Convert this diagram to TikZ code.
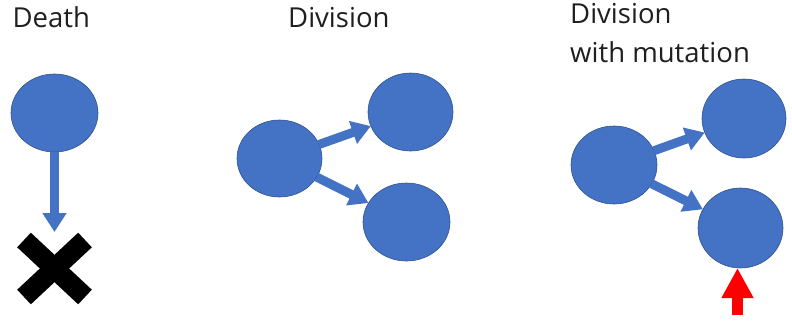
\documentclass[tikz,border=0pt]{standalone}
\usepackage{fontspec}
\setmainfont{Open Sans}
\usetikzlibrary{shapes.geometric,arrows.meta}
\definecolor{cellblue}{HTML}{4472C4}
\definecolor{celledge}{HTML}{2F528F}
\tikzset{
  cell/.style={ellipse, fill=cellblue, draw=celledge, line width=0.6pt, inner sep=0pt, outer sep=0pt},
  lbl/.style={anchor=base west, inner sep=0pt, font=\fontsize{27.5}{39}\selectfont, text=black!88},
  bluearr/.style={draw=cellblue, line width=9pt, -{Triangle[width=23pt,length=19pt]}},
  redarr/.style={draw=red, line width=11pt, -{Triangle[width=30pt,length=30pt]}},
  crossbar/.style={line width=20pt, black}
}
\begin{document}
\begin{tikzpicture}[x=1pt,y=-1pt]
\useasboundingbox (0,0) rectangle (792,322);
% labels
\node[lbl] (tdeath) at (12.5,27) {Death};
\node[lbl] (tdiv) at (288,27) {Division};
\node[lbl] (tmut1) at (570,23) {Division};
\node[lbl] (tmut2) at (570,62) {with mutation};
% death
\node[cell, minimum width=87pt, minimum height=78pt] (d1) at (54.5,113) {};
\coordinate (dend) at (54.5,232);
\draw[bluearr] (d1.south) -- (dend);
\draw[crossbar] (24,240) -- (85,297);
\draw[crossbar] (85,240) -- (24,297);
% division
\node[cell, minimum width=85pt, minimum height=77pt] (p) at (279.5,158.5) {};
\node[cell, minimum width=85pt, minimum height=78pt] (c1) at (410.5,112) {};
\node[cell, minimum width=87pt, minimum height=78pt] (c2) at (406.5,222) {};
\draw[bluearr] (p) -- (c1);
\draw[bluearr] (p) -- (c2);
% division with mutation
\node[cell, minimum width=86pt, minimum height=78pt] (mp) at (614,165) {};
\node[cell, minimum width=84pt, minimum height=79pt] (m1) at (744,118.5) {};
\node[cell, minimum width=85pt, minimum height=80pt] (m2) at (740.5,228) {};
\draw[bluearr] (mp) -- (m1);
\draw[bluearr] (mp) -- (m2);
\coordinate (rbase) at (737.5,315);
\draw[redarr] (rbase) -- (rbase |- m2.south);
\end{tikzpicture}
\end{document}
